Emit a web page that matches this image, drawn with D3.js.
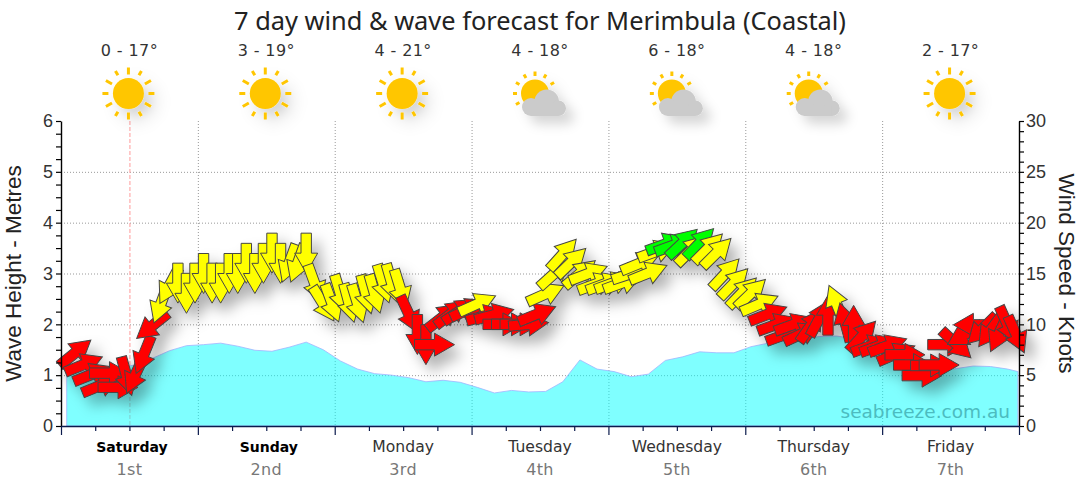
<!DOCTYPE html>
<html>
<head>
<meta charset="utf-8">
<script src="https://cdnjs.cloudflare.com/ajax/libs/d3/7.8.5/d3.min.js"></script>
<style>
  html, body { margin: 0; padding: 0; background: #fff; }
  svg { display: block; }
</style>
</head>
<body>
<div id="chart"></div>
<script>
const dayNames = ["Saturday", "Sunday", "Monday", "Tuesday", "Wednesday", "Thursday", "Friday"];
const dayDates = ["1st", "2nd", "3rd", "4th", "5th", "6th", "7th"];
const weekendDays = ["Saturday", "Sunday"];
const tempRanges = ["0 - 17°", "3 - 19°", "4 - 21°", "4 - 18°", "6 - 18°", "4 - 18°", "2 - 17°"];
const skyIcons = ["sun", "sun", "sun", "cloud", "cloud", "cloud", "sun"];
const nowHour = 12;

// Wave height in metres, hours from Saturday midnight
const waveHours = [
  1, 4, 7, 10, 13, 16, 19, 22, 25, 28, 31, 34, 37, 40, 43, 46, 49, 52, 55,
  58, 61, 64, 67, 70, 73, 76, 79, 82, 85, 88, 91, 94, 97, 100, 103, 106, 109,
  112, 115, 118, 121, 124, 127, 130, 133, 136, 139, 142, 145, 148, 151, 154,
  157, 160, 163, 166, 167.8
];
const waveHeights = [
  1.05, 1.08, 1.1, 1.15, 1.2, 1.33, 1.48, 1.58, 1.6, 1.63, 1.57, 1.49, 1.47, 1.55, 1.65, 1.5, 1.28, 1.12, 1.03,
  1.0, 0.95, 0.87, 0.9, 0.86, 0.76, 0.65, 0.7, 0.67, 0.68, 0.87, 1.3, 1.12, 1.07, 0.97, 1.02, 1.29, 1.36,
  1.46, 1.44, 1.44, 1.56, 1.63, 1.67, 1.72, 1.76, 1.77, 1.72, 1.5, 1.3, 1.2, 1.12, 1.08,
  1.13, 1.18, 1.17, 1.12, 1.07
];

// Wind: speed in knots, compass bearing the arrow points to
const windHours = [
  2.5, 4, 5.5, 7, 8.5, 10, 11.5, 13, 14.5, 16, 17.5, 19, 20.5, 22, 23.5, 25,
  26.5, 28, 29.5, 31, 32.5, 34, 35.5, 37, 38.5, 40, 41.5, 43, 44.5, 46, 47.5, 49,
  50.5, 52, 53.5, 55, 56.5, 58, 59.5, 61, 62.5, 64, 65.5, 67, 68.5, 70, 71.5, 73,
  74.5, 76, 77.5, 79, 80.5, 82, 83.5, 85, 86.5, 88, 89.5, 91, 92.5, 94, 95.5, 97,
  98.5, 100, 101.5, 103, 104.5, 106, 107.5, 109, 110.5, 112, 113.5, 115, 116.5, 118, 119.5, 121,
  122.5, 124, 125.5, 127, 128.5, 130, 131.5, 133, 134.5, 136, 137.5, 139, 140.5, 142, 143.5, 145,
  146.5, 148, 149.5, 151, 152.5, 154, 155.5, 157, 158.5, 160, 161.5, 163, 164.5, 166, 167.5
];
const windSpeeds = [
  7.2, 6.05, 5.1, 4, 5.2, 3.8, 4.9, 5, 7, 9.85, 12, 13.8, 14.05, 13.05, 14.05, 15,
  14.05, 14.05, 15, 15, 16, 15, 16, 17, 16, 16, 16, 17, 14, 12, 12.1, 13,
  12.1, 12.05, 12.95, 13, 14, 14.05, 13.5, 11, 9, 8, 8, 10.75, 11.1, 11.35, 11.5, 12,
  10.85, 10.95, 10, 10, 10, 10, 11, 13, 15, 16.9, 16.1, 15, 15, 14, 14, 14.1,
  14.1, 15, 16, 15.05, 17.2, 17.9, 17.8, 18, 17.3, 18, 17.5, 17.05, 15, 14.05, 13.15, 13.05,
  12, 11, 10, 9, 10, 9.1, 9.9, 10.6, 10.9, 12, 10.2, 9.9, 8.85, 7.9, 7.9, 7.9,
  7.1, 7, 6, 4.95, 5.95, 6, 8, 8.05, 9, 9.95, 9.5, 9.4, 9.1, 9.95, 9
];
const windBearings = [
  51, 68, 68, 68, 90, 90, 165, 205, 202, 231, 200, 208, 180, 180, 180, 180,
  180, 180, 180, 180, 180, 180, 180, 180, 180, 200, 200, 180, 160, 148, 160, 163,
  165, 163, 165, 164, 163, 164, 163, 155, 180, 180, 90, 52, 52, 56, 65, 66,
  75, 75, 90, 90, 90, 85, 68, 66, 48, 42, 46, 50, 69, 70, 70, 70,
  70, 72, 68, 68, 70, 70, 70, 47, 45, 44, 45, 45, 43, 44, 44, 46,
  67, 69, 70, 70, 70, 65, 35, 28, 0, 338, 345, 0, 42, 70, 70, 70,
  67, 90, 90, 90, 90, 90, 90, 133, 240, 270, 225, 216, 205, 156, 156
];

const width = 1080;
const height = 490;
const margin = { top: 121, right: 61, bottom: 64, left: 61 };

const x = d3.scaleLinear().domain([0, 168]).range([margin.left, width - margin.right]);
const yWave = d3.scaleLinear().domain([0, 6]).range([height - margin.bottom, margin.top]);
const yWind = d3.scaleLinear().domain([0, 30]).range([height - margin.bottom, margin.top]);
const windColour = d3.scaleThreshold().domain([12, 17.7]).range(["#ff0000", "#ffff00", "#00ff00"]);

const svg = d3.select("#chart").append("svg")
  .attr("width", width)
  .attr("height", height)
  .style("font-family", "'Liberation Sans', Arial, sans-serif");

const defs = svg.append("defs");
defs.append("filter")
  .attr("id", "arrow-shadow")
  .attr("filterUnits", "userSpaceOnUse")
  .attr("x", 0).attr("y", 0).attr("width", width).attr("height", height)
  .append("feDropShadow")
  .attr("dx", 8).attr("dy", 9).attr("stdDeviation", 7)
  .attr("flood-color", "#000").attr("flood-opacity", 0.3);
defs.append("filter")
  .attr("id", "icon-shadow")
  .attr("x", "-50%").attr("y", "-50%").attr("width", "200%").attr("height", "200%")
  .append("feDropShadow")
  .attr("dx", 8).attr("dy", 8).attr("stdDeviation", 6)
  .attr("flood-color", "#000").attr("flood-opacity", 0.16);

// Title and per-day temperature range
svg.append("text")
  .attr("x", 540).attr("y", 30)
  .attr("text-anchor", "middle")
  .style("font-family", "'Noto Sans', sans-serif")
  .style("font-size", "25.4px")
  .attr("fill", "#222")
  .text("7 day wind & wave forecast for Merimbula (Coastal)");

const dayCentre = (_, i) => x(12 + 24 * i);

svg.append("g").selectAll("text")
  .data(tempRanges)
  .join("text")
  .attr("x", dayCentre)
  .attr("y", 56)
  .attr("text-anchor", "middle")
  .style("font-family", "'DejaVu Sans', sans-serif")
  .style("font-size", "16px")
  .style("letter-spacing", "0.4px")
  .attr("fill", "#333")
  .text(d => d);

// Grid
const grid = svg.append("g")
  .attr("stroke", "#999")
  .attr("stroke-dasharray", "1,2");
grid.selectAll("line.h")
  .data(d3.range(1, 6))
  .join("line")
  .attr("class", "h")
  .attr("x1", x(0)).attr("x2", x(168))
  .attr("y1", d => yWave(d) + 0.5).attr("y2", d => yWave(d) + 0.5);
grid.selectAll("line.v")
  .data(d3.range(24, 168, 24))
  .join("line")
  .attr("class", "v")
  .attr("x1", d => x(d) + 0.5).attr("x2", d => x(d) + 0.5)
  .attr("y1", yWave(6)).attr("y2", yWave(0));

svg.append("line")
  .attr("x1", x(nowHour) + 0.5).attr("x2", x(nowHour) + 0.5)
  .attr("y1", yWave(6)).attr("y2", yWave(0))
  .attr("stroke", "#ff9a9a")
  .attr("stroke-dasharray", "4,2");

// Waves
const waveArea = d3.area()
  .x((_, i) => x(waveHours[i]))
  .y0(yWave(0))
  .y1(d => yWave(d));

svg.append("path")
  .datum(waveHeights)
  .attr("d", waveArea)
  .attr("fill", "#00ffff")
  .attr("fill-opacity", 0.5)
  .attr("stroke", "#a0b4ff")
  .attr("stroke-opacity", 0.8);

svg.append("text")
  .attr("x", 1010).attr("y", 418)
  .attr("text-anchor", "end")
  .style("font-family", "'DejaVu Sans', sans-serif")
  .style("font-size", "18.5px")
  .attr("fill", "#4cbcc0")
  .text("seabreeze.com.au");

// Wind arrows, later ones on top of earlier ones
const arrowShape = [[-5.2, 20], [-5.2, 0], [-11.5, 0], [0, -20], [11.5, 0], [5.2, 0], [5.2, 20]];
const arrowPath = d3.line().curve(d3.curveLinearClosed)(arrowShape);

svg.append("g")
  .attr("filter", "url(#arrow-shadow)")
  .selectAll("path")
  .data(windSpeeds)
  .join("path")
  .attr("d", arrowPath)
  .attr("transform", (d, i) => `translate(${x(windHours[i])},${yWind(d)}) rotate(${windBearings[i]})`)
  .attr("fill", d => windColour(d))
  .attr("stroke", "#464646")
  .attr("stroke-width", 1);

// Axes
const styleAxis = (g, colour) => {
  g.select(".domain").attr("stroke", colour).attr("stroke-width", 1.4);
  g.selectAll(".tick line").attr("stroke", colour).attr("stroke-width", 1.2);
  g.selectAll(".tick text")
    .attr("fill", "#333")
    .style("font-size", "18px")
    .style("font-family", "'Liberation Sans', Arial, sans-serif");
};

svg.append("g")
  .attr("transform", `translate(${x(0)},0)`)
  .call(d3.axisLeft(yWave)
    .tickValues(d3.range(0, 6.01, 0.25))
    .tickSize(5).tickSizeOuter(0)
    .tickFormat(d => Number.isInteger(d) ? d : ""))
  .call(g => styleAxis(g, "#000"));

svg.append("g")
  .attr("transform", `translate(${x(168)},0)`)
  .call(d3.axisRight(yWind)
    .tickValues(d3.range(0, 31, 1))
    .tickSize(5).tickSizeOuter(0).tickPadding(2)
    .tickFormat(d => d % 5 === 0 ? d : ""))
  .call(g => styleAxis(g, "#000"));

svg.append("g")
  .attr("transform", `translate(0,${yWave(0)})`)
  .call(d3.axisBottom(x)
    .tickValues(d3.range(0, 169, 6))
    .tickSize(5).tickSizeOuter(0)
    .tickFormat(""))
  .call(g => styleAxis(g, "#0b1b4d"))
  .call(g => g.selectAll(".tick line")
    .attr("y2", d => d % 24 === 0 ? 9 : 5));

svg.append("text")
  .attr("transform", `translate(21,${yWave(3)}) rotate(-90)`)
  .attr("text-anchor", "middle")
  .style("font-size", "22.5px")
  .attr("fill", "#222")
  .text("Wave Height - Metres");

svg.append("text")
  .attr("transform", `translate(1058.5,${yWave(3)}) rotate(90)`)
  .attr("text-anchor", "middle")
  .style("font-size", "22.5px")
  .attr("fill", "#222")
  .text("Wind Speed - Knots");

// Day labels under the axis
svg.append("g").selectAll("text")
  .data(dayNames)
  .join("text")
  .attr("x", (d, i) => dayCentre(d, i) + (weekendDays.includes(d) ? 2.5 : 0))
  .attr("y", 452)
  .attr("text-anchor", "middle")
  .style("font-family", "'DejaVu Sans', sans-serif")
  .style("font-size", d => weekendDays.includes(d) ? "14px" : "15.6px")
  .style("font-weight", d => weekendDays.includes(d) ? "bold" : "normal")
  .attr("fill", d => weekendDays.includes(d) ? "#000" : "#333")
  .text(d => d);

svg.append("g").selectAll("text")
  .data(dayDates)
  .join("text")
  .attr("x", dayCentre)
  .attr("y", 475)
  .attr("text-anchor", "middle")
  .style("font-family", "'DejaVu Sans', sans-serif")
  .style("font-size", "16px")
  .style("letter-spacing", "0.3px")
  .attr("fill", "#777")
  .text(d => d);

// Weather icons
const sunYellow = "#ffc600";
const cloudGrey = "#cbcbcb";

function drawRays(g, cx, cy, rays) {
  g.selectAll("line")
    .data(rays)
    .join("line")
    .attr("x1", d => cx + d.from * Math.sin(d.a * Math.PI / 180))
    .attr("y1", d => cy - d.from * Math.cos(d.a * Math.PI / 180))
    .attr("x2", d => cx + d.to * Math.sin(d.a * Math.PI / 180))
    .attr("y2", d => cy - d.to * Math.cos(d.a * Math.PI / 180))
    .attr("stroke", sunYellow)
    .attr("stroke-width", 3);
}

const fullRays = [
  { a: 0, from: 19, to: 26 }, { a: 30, from: 21, to: 26 }, { a: 60, from: 19, to: 26 },
  { a: 90, from: 20, to: 26 }, { a: 120, from: 19, to: 26 }, { a: 150, from: 21, to: 26 },
  { a: 180, from: 19, to: 26 }, { a: 210, from: 21, to: 26 }, { a: 240, from: 19, to: 26 },
  { a: 270, from: 20, to: 26 }, { a: 300, from: 19, to: 26 }, { a: 330, from: 21, to: 26 }
];
const partRays = [
  { a: 0, from: 17.5, to: 22 }, { a: 30, from: 18, to: 22 }, { a: 60, from: 18, to: 22 },
  { a: 240, from: 18, to: 22 }, { a: 270, from: 18, to: 22 }, { a: 300, from: 18, to: 22 },
  { a: 330, from: 18, to: 22 }
];

skyIcons.forEach((kind, i) => {
  const cx = x(12 + 24 * i) - 1;
  const cy = 93.5;
  const icon = svg.append("g").attr("filter", "url(#icon-shadow)");
  if (kind === "sun") {
    icon.append("circle").attr("cx", cx).attr("cy", cy).attr("r", 15.5).attr("fill", sunYellow);
    drawRays(icon.append("g"), cx, cy, fullRays);
  } else {
    const sx = cx - 4;
    icon.append("circle").attr("cx", sx).attr("cy", cy).attr("r", 14).attr("fill", sunYellow);
    drawRays(icon.append("g"), sx, cy, partRays);
    const cloud = icon.append("g").attr("fill", cloudGrey);
    cloud.append("circle").attr("cx", cx + 7.7).attr("cy", cy + 8.2).attr("r", 12.3);
    cloud.append("circle").attr("cx", cx + 19.3).attr("cy", cy + 14.8).attr("r", 7.7);
    cloud.append("circle").attr("cx", cx - 8).attr("cy", cy + 13.5).attr("r", 9);
    cloud.append("rect")
      .attr("x", cx - 8).attr("y", cy + 13)
      .attr("width", 27).attr("height", 9.5);
  }
});
</script>
</body>
</html>
